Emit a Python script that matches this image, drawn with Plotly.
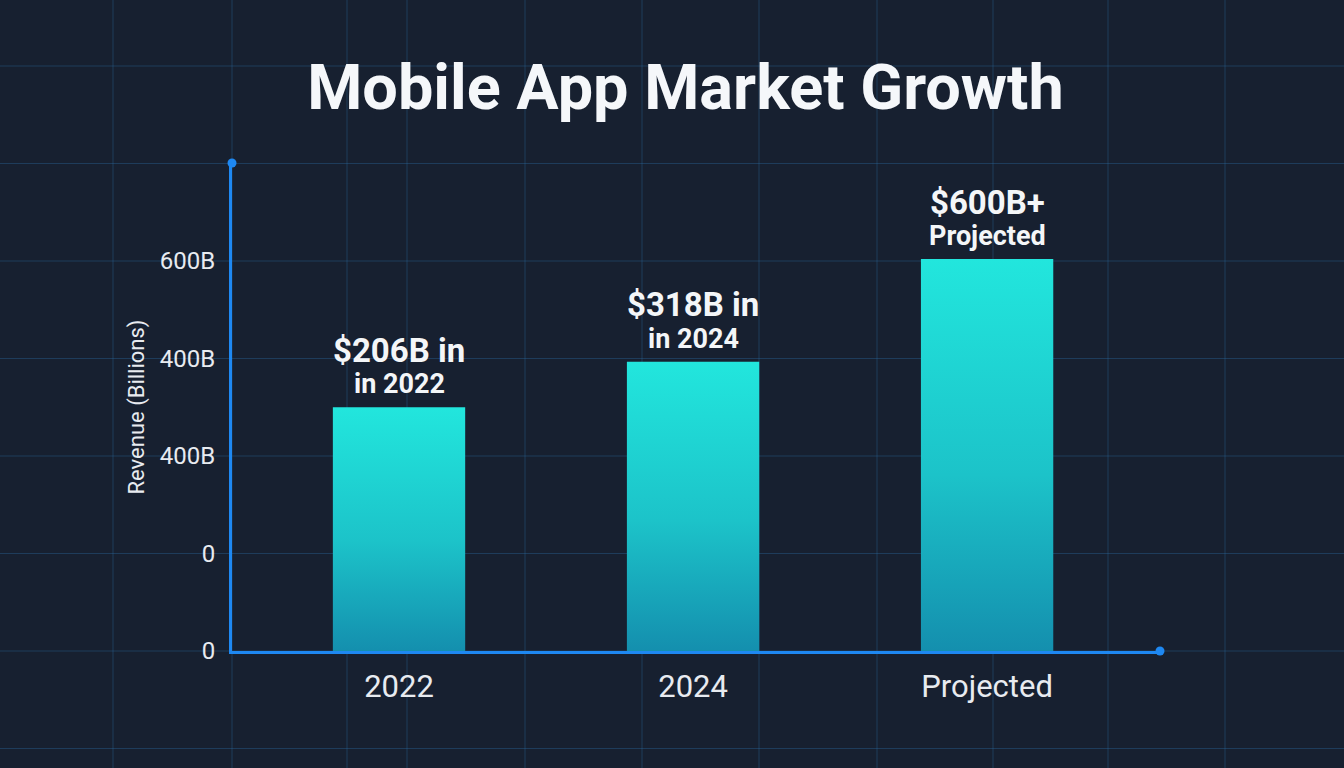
import plotly.graph_objects as go

# ---- data ----
categories = ["2022", "2024", "Projected"]
revenue = [375, 445, 603]          # bar heights
label_top = ["$206B in", "$318B in", "$600B+"]
label_bottom = ["in 2022", "in 2024", "Projected"]
ytick_vals = [0, 150, 300, 450, 600]
ytick_text = ["0", "0", "400B", "400B", "600B"]

# ---- style ----
BG = "#172030"
GRID = "rgba(45,110,170,0.36)"
AXIS = "#1e88f2"
TXT = "#e8ebf0"
FONT = "Roboto"
BAR_W = 0.45

W, H = 1344, 768
L, R, T, B = 232, 184, 163, 117
PW, PH = W - L - R, H - T - B
X_RANGE = [-0.568, 2.588]
Y_RANGE = [0, 750.8]

fig = go.Figure()

for i, (cat, v) in enumerate(zip(categories, revenue)):
    x0, x1 = i - BAR_W / 2, i + BAR_W / 2
    fig.add_trace(go.Scatter(
        x=[x0, x0, x1, x1, x0],
        y=[0, v, v, 0, 0],
        mode="lines",
        line=dict(width=0),
        fill="toself",
        fillgradient=dict(
            type="vertical",
            colorscale=[[0, "#148fae"], [0.45, "#1cc3c9"], [1, "#22e6dd"]],
            start=0, stop=v,
        ),
        hoverinfo="text",
        text=f"{cat}: {v}",
        showlegend=False,
    ))

annotations = []
for i, v in enumerate(revenue):
    annotations.append(dict(
        x=i, y=v, xref="x", yref="y", text=label_top[i], showarrow=False,
        yanchor="middle", yshift=57,
        font=dict(family=FONT, size=33, color="#f4f6f8", weight=700),
    ))
    annotations.append(dict(
        x=i, y=v, xref="x", yref="y", text=label_bottom[i], showarrow=False,
        yanchor="middle", yshift=23,
        font=dict(family=FONT, size=27, color="#f4f6f8", weight=700),
    ))

# background grid (decorative, spans the whole canvas)
shapes = []
step_px = 97.5
for k in range(-1, 7):
    yp = k * step_px / PH
    shapes.append(dict(type="line", xref="paper", yref="paper",
                       x0=-L / PW, x1=(W - L) / PW, y0=yp, y1=yp,
                       line=dict(color=GRID, width=1), layer="below"))
for px in [113, 232, 347, 407, 525, 642, 759, 877, 993, 1108, 1225]:
    xp = (px - L) / PW
    shapes.append(dict(type="line", xref="paper", yref="paper",
                       x0=xp, x1=xp, y0=-B / PH, y1=(H - B) / PH,
                       line=dict(color=GRID, width=1), layer="below"))
# axis end dots
shapes.append(dict(type="circle", xref="paper", yref="paper",
                   xsizemode="pixel", ysizemode="pixel", xanchor=0, yanchor=1,
                   x0=-4.5, x1=4.5, y0=-4.5, y1=4.5,
                   fillcolor=AXIS, line=dict(width=0), layer="above"))
shapes.append(dict(type="circle", xref="paper", yref="paper",
                   xsizemode="pixel", ysizemode="pixel", xanchor=1, yanchor=0,
                   x0=-4.5, x1=4.5, y0=-4.5, y1=4.5,
                   fillcolor=AXIS, line=dict(width=0), layer="above"))

fig.update_layout(
    width=W, height=H,
    paper_bgcolor=BG, plot_bgcolor="rgba(0,0,0,0)",
    margin=dict(l=L, r=R, t=T, b=B, pad=0),
    title=dict(text="Mobile App Market Growth", x=0.51, xanchor="center",
               y=1 - 87 / H, yanchor="middle", yref="container",
               font=dict(family=FONT, size=63, color="#f5f7fa", weight=700)),
    xaxis=dict(range=X_RANGE, tickvals=[0, 1, 2], ticktext=categories,
               showgrid=False, zeroline=False, showline=True,
               linecolor=AXIS, linewidth=3, ticks="",
               ticklabelstandoff=6,
               tickfont=dict(family=FONT, size=31, color=TXT),
               fixedrange=True),
    yaxis=dict(range=Y_RANGE, tickvals=ytick_vals, ticktext=ytick_text,
               showgrid=False, zeroline=False, showline=True,
               linecolor=AXIS, linewidth=3, ticks="",
               ticklabelstandoff=9,
               tickfont=dict(family=FONT, size=24, color=TXT),
               title=dict(text="Revenue (Billions)", standoff=10,
                          font=dict(family=FONT, size=22, color=TXT)),
               fixedrange=True),
    shapes=shapes,
    annotations=annotations,
    showlegend=False,
)

fig.write_html("out.html")
